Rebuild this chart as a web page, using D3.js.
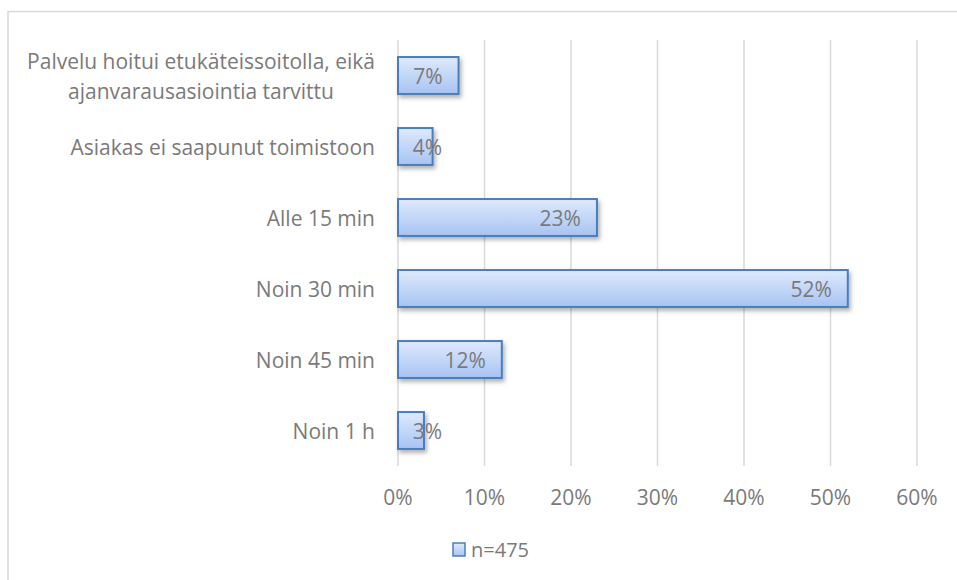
<!DOCTYPE html>
<head>
    <meta charset="utf-8">
    <script src="https://cdn.jsdelivr.net/npm/d3@7"></script>
    <style>
        body { margin: 0; background: white; }
        text { font-family: "Open Sans", sans-serif; fill: #7a7a7a; }
    </style>
</head>
<body>
<script>

    var categories = [
        ["Palvelu hoitui etukäteissoitolla, eikä", "ajanvarausasiointia tarvittu"],
        ["Asiakas ei saapunut toimistoon"],
        ["Alle 15 min"],
        ["Noin 30 min"],
        ["Noin 45 min"],
        ["Noin 1 h"]
    ];
    var values = [7, 4, 23, 52, 12, 3];
    var ticks = [0, 10, 20, 30, 40, 50, 60];
    var seriesName = "n=475";

    var svg = d3.select("body").append("svg")
        .attr("width", 957)
        .attr("height", 580);

    var defs = svg.append("defs");
    var grad = defs.append("linearGradient").attr("id", "barGrad")
        .attr("x1", 0).attr("y1", 0).attr("x2", 0).attr("y2", 1);
    grad.append("stop").attr("offset", "0%").attr("stop-color", "#dfeafd");
    grad.append("stop").attr("offset", "100%").attr("stop-color", "#a7c3f2");

    var shadow = defs.append("filter").attr("id", "shadow")
        .attr("x", "-10%").attr("y", "-20%").attr("width", "130%").attr("height", "160%");
    shadow.append("feDropShadow").attr("dx", 2).attr("dy", 3).attr("stdDeviation", 2)
        .attr("flood-color", "#000").attr("flood-opacity", 0.3);

    // chart border
    svg.append("path")
        .attr("d", "M8,580 V11.5 H957")
        .attr("fill", "none").attr("stroke", "#d9d9d9").attr("stroke-width", 1.5);

    var x = d3.scaleLinear().domain([0, 60]).range([398, 917]);
    var y = d3.scaleBand().domain(d3.range(categories.length)).range([40, 466]).paddingInner(0.48).paddingOuter(0.24);

    // gridlines
    svg.append("g").selectAll("line").data(ticks).enter().append("line")
        .attr("x1", function(d) { return x(d); })
        .attr("x2", function(d) { return x(d); })
        .attr("y1", 40).attr("y2", 466)
        .attr("stroke", "#d9d9d9").attr("stroke-width", 1.5);

    // tick labels
    svg.append("g").selectAll("text").data(ticks).enter().append("text")
        .attr("x", function(d) { return x(d); })
        .attr("y", 505)
        .attr("text-anchor", "middle")
        .style("font-size", "21px")
        .text(function(d) { return d + "%"; });

    // bars
    svg.append("g").selectAll("rect").data(values).enter().append("rect")
        .attr("x", x(0))
        .attr("y", function(d, i) { return y(i); })
        .attr("width", function(d) { return x(d) - x(0); })
        .attr("height", y.bandwidth())
        .attr("fill", "url(#barGrad)")
        .attr("stroke", "#4a7ebb")
        .attr("stroke-width", 2)
        .attr("filter", "url(#shadow)");

    // value labels (inside end, but never closer to the axis than a minimum)
    svg.append("g").selectAll("text").data(values).enter().append("text")
        .attr("x", function(d) { return Math.max(x(d) - 16, x(0) + 44); })
        .attr("y", function(d, i) { return y(i) + y.bandwidth() / 2 + 8; })
        .attr("text-anchor", "end")
        .style("font-size", "21px")
        .text(function(d) { return d + "%"; });

    // category labels
    var cat = svg.append("g").selectAll("text").data(categories).enter().append("text")
        .attr("text-anchor", "middle")
        .style("font-size", "21px")
        .attr("y", function(d, i) { return y(i) + y.bandwidth() / 2 + 8 - (d.length - 1) * 15; });
    cat.each(function(d) {
        var t = d3.select(this);
        d.forEach(function(line, j) {
            t.append("tspan").attr("dy", j === 0 ? 0 : 30).text(line);
        });
    });
    // right align the block, keep lines centred to each other
    cat.each(function(d) {
        var t = d3.select(this);
        var w = 0;
        t.selectAll("tspan").each(function() { w = Math.max(w, this.getComputedTextLength()); });
        t.selectAll("tspan").attr("x", 375 - w / 2);
    });

    // legend
    svg.append("rect")
        .attr("x", 453).attr("y", 543).attr("width", 12).attr("height", 13)
        .attr("fill", "url(#barGrad)").attr("stroke", "#4a7ebb").attr("stroke-width", 1.5);
    svg.append("text")
        .attr("x", 471).attr("y", 557)
        .style("font-size", "20px")
        .text(seriesName);

</script>
</body>
